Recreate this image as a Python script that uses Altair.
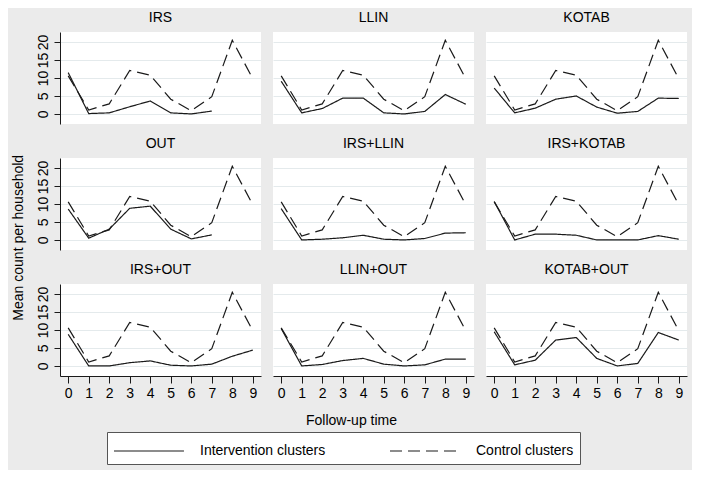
import altair as alt
import pandas as pd

panels = ["IRS", "LLIN", "KOTAB", "OUT", "IRS+LLIN", "IRS+KOTAB",
          "IRS+OUT", "LLIN+OUT", "KOTAB+OUT"]
times = [0, 1, 2, 3, 4, 5, 6, 7, 8, 9]
y_ticks = [0, 5, 10, 15, 20]

control = [10.6, 1.1, 2.8, 12.1, 10.8, 4.1, 0.9, 4.8, 20.5, 9.8]

int_irs = [11.5, 0.1, 0.3, 2.0, 3.6, 0.3, 0.0, 0.8, None, None]
int_llin = [9.1, 0.3, 1.5, 4.4, 4.4, 0.3, 0.0, 0.7, 5.4, 2.7]
int_kotab = [7.2, 0.3, 1.6, 4.1, 5.0, 1.9, 0.2, 0.7, 4.4, 4.3]
int_out = [8.6, 0.5, 3.0, 8.8, 9.4, 3.0, 0.3, 1.4, None, None]
int_irs_llin = [8.7, 0.0, 0.2, 0.6, 1.3, 0.2, 0.0, 0.4, 1.9, 2.0]
int_irs_kotab = [10.7, 0.0, 1.6, 1.6, 1.3, 0.0, 0.0, 0.0, 1.2, 0.2]
int_irs_out = [8.8, 0.0, 0.0, 0.9, 1.4, 0.2, 0.0, 0.5, 2.7, 4.4]
int_llin_out = [10.4, 0.0, 0.4, 1.5, 2.1, 0.5, 0.0, 0.3, 1.9, 1.9]
int_kotab_out = [9.5, 0.3, 1.6, 7.2, 7.9, 2.1, 0.0, 0.7, 9.3, 7.2]

intervention = dict(zip(panels, [int_irs, int_llin, int_kotab, int_out, int_irs_llin,
                                 int_irs_kotab, int_irs_out, int_llin_out, int_kotab_out]))

groups = ["Intervention clusters", "Control clusters"]

FONT = "Liberation Sans"
INK = "#1a1a1a"
GRID = "#E4EAEC"


def panel_df(p):
    rows = []
    for t in times:
        v = intervention[p][t]
        if v is not None:
            rows.append({"time": t, "value": v, "group": groups[0]})
    for t in times:
        rows.append({"time": t, "value": control[t], "group": groups[1]})
    return pd.DataFrame(rows)


def make_panel(i, p):
    col, row = i % 3, i // 3
    left = col == 0
    bottom = row == 2
    if bottom:
        xaxis = alt.Axis(values=times, grid=False, tickSize=7, tickColor=INK,
                         domainColor=INK, labelFontSize=14, labelColor="black",
                         labelPadding=3, labelFont=FONT,
                         title="Follow-up time" if col == 1 else None,
                         titleFontSize=14, titleFontWeight="normal", titleFont=FONT,
                         titleColor="black", titlePadding=13, titleX=78)
    else:
        xaxis = None
    if left:
        yaxis = alt.Axis(values=y_ticks, grid=True, gridColor=GRID, tickSize=6,
                         tickColor=INK, domainColor=INK, labelAngle=-90,
                         labelAlign="center", labelBaseline="bottom",
                         labelOverlap=False, labelFontSize=14, labelColor="black",
                         labelPadding=4, labelFont=FONT, title=None)
    else:
        yaxis = alt.Axis(values=y_ticks, grid=True, gridColor=GRID, ticks=False,
                         labels=False, domain=False, title=None)
    return (
        alt.Chart(panel_df(p))
        .mark_line(color=INK, strokeWidth=1.2)
        .encode(
            x=alt.X("time:Q", scale=alt.Scale(domain=[-0.4, 9.4], nice=False), axis=xaxis),
            y=alt.Y("value:Q", scale=alt.Scale(domain=[-2.8, 22.8], nice=False), axis=yaxis),
            strokeDash=alt.StrokeDash(
                "group:N",
                scale=alt.Scale(domain=groups, range=[[1, 0], [12, 6]]),
                legend=alt.Legend(title=None),
            ),
            detail="group:N",
        )
        .properties(
            width=201, height=92,
            title=alt.TitleParams(p, fontSize=14, fontWeight="normal", font=FONT,
                                  color="black", anchor="middle", offset=7),
        )
    )


charts = [make_panel(i, p) for i, p in enumerate(panels)]
rows = [alt.hconcat(*charts[r * 3:(r + 1) * 3], spacing=12) for r in range(3)]

chart = (
    alt.vconcat(*rows, spacing=13)
    .properties(
        title=alt.TitleParams("Mean count per household", orient="left", anchor="middle",
                              fontSize=14, fontWeight="normal", font=FONT,
                              color="black", offset=10),
        background="#EBEBEB",
        padding={"left": 3, "top": 3, "right": 5, "bottom": 5},
    )
    .configure_title(fontWeight="normal")
    .configure_view(stroke=None, fill="white")
    .configure_legend(
        orient="none", legendX=47, legendY=400, direction="horizontal",
        fillColor="white", strokeColor="#555555", padding=6, gridAlign="all",
        symbolType="M-1,0H4.83", symbolSize=576, symbolStrokeWidth=1.2,
        symbolStrokeColor=INK, labelFontSize=14, labelFont=FONT, labelColor="black",
        labelOffset=61, columnPadding=61,
    )
)

chart.save("out.html", embed_options={"renderer": "svg", "actions": False})
